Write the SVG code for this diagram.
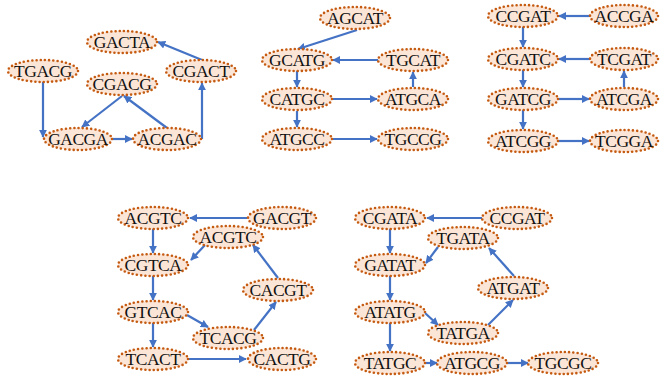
<svg xmlns="http://www.w3.org/2000/svg" width="660" height="381" viewBox="0 0 660 381">
  <style>
    .node ellipse { fill: #fbe5d6; stroke: #c55a11; stroke-width: 2.6; stroke-dasharray: 0 4.2; stroke-linecap: round; }
    .node text { font-family: "Liberation Serif", "Times New Roman", serif; font-size: 17.5px; letter-spacing: -0.5px; fill: #111; text-anchor: middle; dominant-baseline: central; }
    #edges line { stroke: #4472c4; stroke-width: 2.2; fill: none; marker-end: url(#arrow); }
  </style>
  <defs>
    <marker id="arrow" viewBox="0 0 10 10" refX="9" refY="5" markerWidth="8" markerHeight="8" markerUnits="userSpaceOnUse" orient="auto">
      <path d="M0,0 L10,5 L0,10 z" fill="#4472c4"/>
    </marker>
  </defs>
  <rect width="660" height="381" fill="#ffffff"/>

  <!-- connectors -->
  <g id="edges">
    <!-- cluster 1 -->
    <line x1="43" y1="82" x2="43" y2="137"/>
    <line x1="112" y1="139" x2="132" y2="139"/>
    <line x1="167" y1="128" x2="124" y2="96"/>
    <line x1="122" y1="96" x2="82" y2="127"/>
    <line x1="202" y1="139" x2="202" y2="83"/>
    <line x1="202" y1="60" x2="158" y2="42"/>
    <!-- cluster 2 -->
    <line x1="357" y1="30" x2="298" y2="49"/>
    <line x1="378" y1="60" x2="333" y2="60"/>
    <line x1="297" y1="71" x2="297" y2="87"/>
    <line x1="332" y1="99" x2="377" y2="99"/>
    <line x1="413" y1="87" x2="413" y2="72"/>
    <line x1="297" y1="111" x2="297" y2="127"/>
    <line x1="332" y1="139" x2="377" y2="139"/>
    <!-- cluster 3 -->
    <line x1="590" y1="16" x2="559" y2="16"/>
    <line x1="523" y1="27" x2="523" y2="47"/>
    <line x1="590" y1="59" x2="559" y2="59"/>
    <line x1="523" y1="70" x2="523" y2="87"/>
    <line x1="558" y1="99" x2="589" y2="99"/>
    <line x1="624" y1="87" x2="624" y2="71"/>
    <line x1="523" y1="110" x2="523" y2="129"/>
    <line x1="558" y1="141" x2="589" y2="141"/>
    <!-- cluster 4 -->
    <line x1="247" y1="218" x2="190" y2="218"/>
    <line x1="153" y1="229" x2="153" y2="253"/>
    <line x1="205" y1="245" x2="191" y2="260"/>
    <line x1="153" y1="276" x2="153" y2="300"/>
    <line x1="187" y1="315" x2="208" y2="327"/>
    <line x1="254" y1="330" x2="276" y2="302"/>
    <line x1="278" y1="278" x2="253" y2="245"/>
    <line x1="153" y1="323" x2="153" y2="347"/>
    <line x1="188" y1="359" x2="246" y2="359"/>
    <!-- cluster 5 -->
    <line x1="482" y1="218" x2="427" y2="218"/>
    <line x1="390" y1="229" x2="390" y2="253"/>
    <line x1="438" y1="247" x2="426" y2="263"/>
    <line x1="390" y1="276" x2="390" y2="300"/>
    <line x1="425" y1="313" x2="438" y2="325"/>
    <line x1="488" y1="325" x2="513" y2="300"/>
    <line x1="514" y1="276" x2="489" y2="248"/>
    <line x1="390" y1="323" x2="390" y2="351"/>
    <line x1="425" y1="363" x2="437" y2="363"/>
    <line x1="507" y1="363" x2="528" y2="363"/>
  </g>

  <!-- cluster 1 nodes -->
  <g id="c1-gacta" class="node"><ellipse cx="122" cy="42" rx="35" ry="11"/><text x="122" y="42">GACTA</text></g>
  <g id="c1-tgacg" class="node"><ellipse cx="43" cy="71" rx="35" ry="11"/><text x="43" y="71">TGACG</text></g>
  <g id="c1-cgacg" class="node"><ellipse cx="122" cy="84" rx="35" ry="11"/><text x="122" y="84">CGACG</text></g>
  <g id="c1-cgact" class="node"><ellipse cx="201" cy="71" rx="35" ry="11"/><text x="201" y="71">CGACT</text></g>
  <g id="c1-gacga" class="node"><ellipse cx="78" cy="139" rx="34" ry="11"/><text x="78" y="139">GACGA</text></g>
  <g id="c1-acgac" class="node"><ellipse cx="167" cy="139" rx="34" ry="11"/><text x="167" y="139">ACGAC</text></g>

  <!-- cluster 2 nodes -->
  <g id="c2-agcat" class="node"><ellipse cx="355" cy="18" rx="35" ry="11"/><text x="355" y="18">AGCAT</text></g>
  <g id="c2-gcatg" class="node"><ellipse cx="297" cy="60" rx="35" ry="11"/><text x="297" y="60">GCATG</text></g>
  <g id="c2-tgcat" class="node"><ellipse cx="413" cy="60" rx="35" ry="11"/><text x="413" y="60">TGCAT</text></g>
  <g id="c2-catgc" class="node"><ellipse cx="297" cy="99" rx="35" ry="11"/><text x="297" y="99">CATGC</text></g>
  <g id="c2-atgca" class="node"><ellipse cx="413" cy="99" rx="35" ry="11"/><text x="413" y="99">ATGCA</text></g>
  <g id="c2-atgcc" class="node"><ellipse cx="297" cy="139" rx="35" ry="11"/><text x="297" y="139">ATGCC</text></g>
  <g id="c2-tgccg" class="node"><ellipse cx="413" cy="139" rx="35" ry="11"/><text x="413" y="139">TGCCG</text></g>

  <!-- cluster 3 nodes -->
  <g id="c3-ccgat" class="node"><ellipse cx="523" cy="16" rx="35" ry="11"/><text x="523" y="16">CCGAT</text></g>
  <g id="c3-accga" class="node"><ellipse cx="624" cy="16" rx="34" ry="11"/><text x="624" y="16">ACCGA</text></g>
  <g id="c3-cgatc" class="node"><ellipse cx="523" cy="59" rx="35" ry="11"/><text x="523" y="59">CGATC</text></g>
  <g id="c3-tcgat" class="node"><ellipse cx="624" cy="59" rx="34" ry="11"/><text x="624" y="59">TCGAT</text></g>
  <g id="c3-gatcg" class="node"><ellipse cx="523" cy="99" rx="35" ry="11"/><text x="523" y="99">GATCG</text></g>
  <g id="c3-atcga" class="node"><ellipse cx="624" cy="99" rx="34" ry="11"/><text x="624" y="99">ATCGA</text></g>
  <g id="c3-atcgg" class="node"><ellipse cx="523" cy="141" rx="35" ry="11"/><text x="523" y="141">ATCGG</text></g>
  <g id="c3-tcgga" class="node"><ellipse cx="624" cy="141" rx="34" ry="11"/><text x="624" y="141">TCGGA</text></g>

  <!-- cluster 4 nodes -->
  <g id="c4-acgtc-a" class="node"><ellipse cx="153" cy="218" rx="35" ry="11"/><text x="153" y="218">ACGTC</text></g>
  <g id="c4-gacgt" class="node"><ellipse cx="282" cy="218" rx="34" ry="11"/><text x="282" y="218">GACGT</text></g>
  <g id="c4-acgtc-b" class="node"><ellipse cx="228" cy="237" rx="35" ry="11"/><text x="228" y="237">ACGTC</text></g>
  <g id="c4-cgtca" class="node"><ellipse cx="153" cy="265" rx="35" ry="11"/><text x="153" y="265">CGTCA</text></g>
  <g id="c4-cacgt" class="node"><ellipse cx="278" cy="290" rx="35" ry="11"/><text x="278" y="290">CACGT</text></g>
  <g id="c4-gtcac" class="node"><ellipse cx="153" cy="312" rx="35" ry="11"/><text x="153" y="312">GTCAC</text></g>
  <g id="c4-tcacg" class="node"><ellipse cx="228" cy="338" rx="35" ry="11"/><text x="228" y="338">TCACG</text></g>
  <g id="c4-tcact" class="node"><ellipse cx="153" cy="359" rx="35" ry="11"/><text x="153" y="359">TCACT</text></g>
  <g id="c4-cactg" class="node"><ellipse cx="282" cy="359" rx="34" ry="11"/><text x="282" y="359">CACTG</text></g>

  <!-- cluster 5 nodes -->
  <g id="c5-cgata" class="node"><ellipse cx="390" cy="218" rx="35" ry="11"/><text x="390" y="218">CGATA</text></g>
  <g id="c5-ccgat" class="node"><ellipse cx="517" cy="218" rx="35" ry="11"/><text x="517" y="218">CCGAT</text></g>
  <g id="c5-tgata" class="node"><ellipse cx="463" cy="238" rx="35" ry="11"/><text x="463" y="238">TGATA</text></g>
  <g id="c5-gatat" class="node"><ellipse cx="390" cy="265" rx="35" ry="11"/><text x="390" y="265">GATAT</text></g>
  <g id="c5-atgat" class="node"><ellipse cx="513" cy="288" rx="35" ry="11"/><text x="513" y="288">ATGAT</text></g>
  <g id="c5-atatg" class="node"><ellipse cx="390" cy="312" rx="35" ry="11"/><text x="390" y="312">ATATG</text></g>
  <g id="c5-tatga" class="node"><ellipse cx="463" cy="333" rx="35" ry="11"/><text x="463" y="333">TATGA</text></g>
  <g id="c5-tatgc" class="node"><ellipse cx="390" cy="363" rx="35" ry="11"/><text x="390" y="363">TATGC</text></g>
  <g id="c5-atgcg" class="node"><ellipse cx="472" cy="363" rx="35" ry="11"/><text x="472" y="363">ATGCG</text></g>
  <g id="c5-tgcgc" class="node"><ellipse cx="563" cy="363" rx="35" ry="11"/><text x="563" y="363">TGCGC</text></g>
</svg>
